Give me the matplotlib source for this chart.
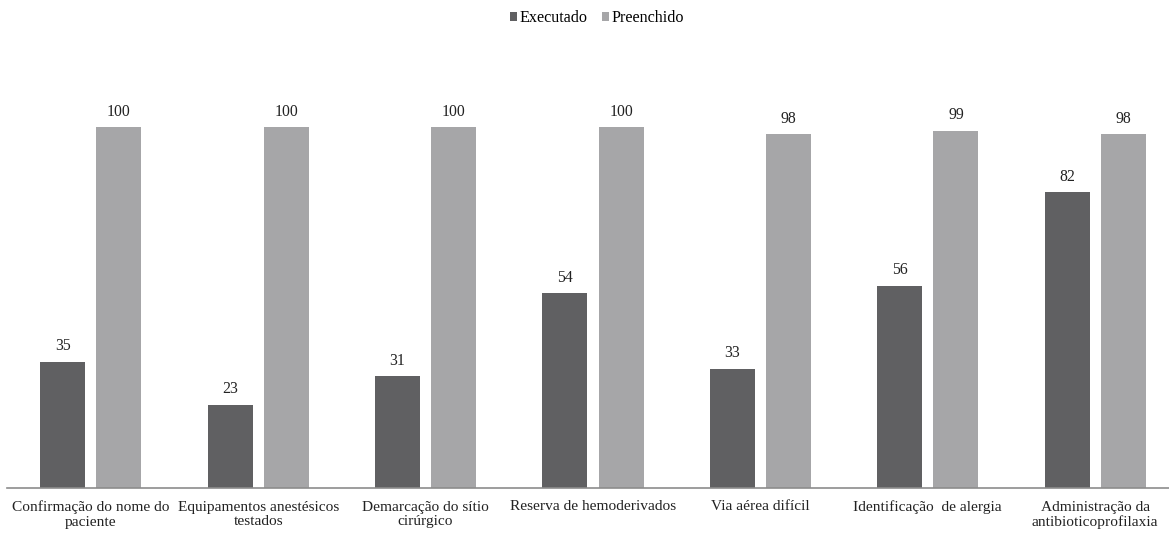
import matplotlib
matplotlib.use("Agg")
import matplotlib.pyplot as plt
import numpy as np

categories = ["Confirmação do nome do\npaciente", "Equipamentos anestésicos\ntestados",
              "Demarcação do sítio\ncirúrgico", "Reserva de hemoderivados",
              "Via aérea difícil", "Identificação  de alergia",
              "Administração da\nantibioticoprofilaxia"]
executado = [35, 23, 31, 54, 33, 56, 82]
preenchido = [100, 100, 100, 100, 98, 99, 98]

plt.rcParams['font.family'] = ['Liberation Serif', 'DejaVu Serif']

fig = plt.figure(figsize=(11.69, 5.35), dpi=100)
ax = fig.add_axes([7/1169, 47/535, 1162/1169, 433/535])

x = np.arange(len(categories))
w = 0.269
off = 0.168
c_dark = "#606062"
c_light = "#a6a6a8"
b1 = ax.bar(x - off, executado, w, color=c_dark, label="Executado")
b2 = ax.bar(x + off, preenchido, w, color=c_light, label="Preenchido")
for bars, vals in ((b1, executado), (b2, preenchido)):
    for r, v in zip(bars, vals):
        ax.text(r.get_x() + r.get_width()/2, v + 2.1, str(v), ha="center", va="bottom", fontsize=11.3, color="#222222")

ax.set_xlim(-0.5006, 6.441)
ax.set_ylim(0, 120)
ax.set_yticks([])
ax.set_xticks(x)
ax.set_xticklabels(categories, fontsize=11.1, color="#222222", linespacing=1.15)
ax.tick_params(axis="x", length=0, pad=9)
for s in ["top", "right", "left"]:
    ax.spines[s].set_visible(False)
ax.spines["bottom"].set_color("#8c8c8c")
ax.spines["bottom"].set_linewidth(1.2)

fig.legend(loc="center", bbox_to_anchor=(597/1169, 1 - 18/535), ncol=2, frameon=False,
           fontsize=11.6, handlelength=0.45, handleheight=0.45, handletextpad=0.15,
           columnspacing=0.85, borderpad=0)

fig.savefig("out.png", dpi=100)
